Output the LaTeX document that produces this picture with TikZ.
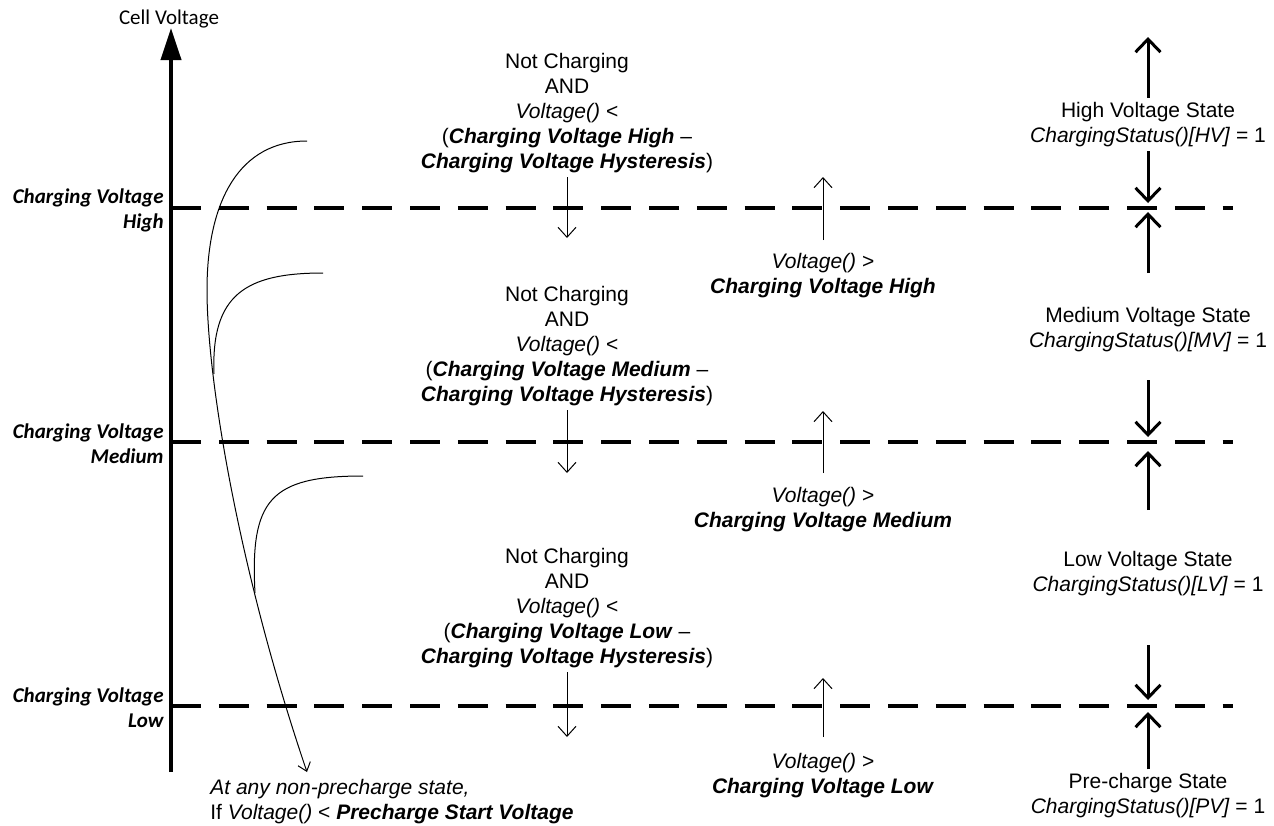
\documentclass[tikz,border=0pt]{standalone}
\usepackage{fontspec}
\setmainfont{Liberation Sans}
\newfontfamily\calibrifont{Carlito}
\usetikzlibrary{arrows.meta}
\newcommand{\boldit}[1]{\textbf{\textit{#1}}}

\begin{document}
\begin{tikzpicture}[x=0.5pt,y=-0.5pt,
        font=\fontsize{10.5}{12.5}\selectfont,
        axis/.style={line width=2pt,-{Triangle[width=10pt,length=16pt]}},
        level/.style={line width=2pt,dash pattern=on 15pt off 8.9pt},
        thinarrow/.style={line width=0.5pt,-{Straight Barb[length=5pt,width=9pt]}},
        statearrow/.style={line width=1.5pt,-{Straight Barb[length=6.5pt,width=12.5pt]}},
        fallarrow/.style={line width=0.5pt,-{Straight Barb[length=4pt,width=6.5pt]}},
        levellabel/.style={font=\calibrifont\fontsize{10.5}{12.5}\selectfont\bfseries\itshape,
            align=right,anchor=east,inner sep=0pt},
        cond/.style={align=center,inner sep=2pt},
        state/.style={align=center,inner sep=2pt}]
        \useasboundingbox (0,0) rectangle (1274,825);

        \coordinate (origin) at (171,772);
        \coordinate (axistop) at (171,28);
        \draw[axis] (origin) -- (axistop);
        \node[inner sep=0pt,font=\calibrifont\fontsize{10.5}{12.5}\selectfont] (axislabel) at (169,19) {Cell Voltage};

        \coordinate (hvleft) at (171,208);
        \coordinate (hvright) at (1233,208);
        \coordinate (mvleft) at (171,442);
        \coordinate (mvright) at (1233,442);
        \coordinate (lvleft) at (171,706);
        \coordinate (lvright) at (1233,706);
        \draw[level] (hvleft) -- (hvright);
        \draw[level] (mvleft) -- (mvright);
        \draw[level] (lvleft) -- (lvright);

        \node[levellabel] (hvlabel) at (164,210) {Charging Voltage\\High};
        \node[levellabel] (mvlabel) at (164,444) {Charging Voltage\\Medium};
        \node[levellabel] (lvlabel) at (164,708) {Charging Voltage\\Low};

        \node[cond] (hvfall) at (567,113) {Not Charging\\AND\\\textit{Voltage()} <\\(\boldit{Charging Voltage High} –\\\boldit{Charging Voltage Hysteresis})};
        \node[cond] (mvfall) at (567,346) {Not Charging\\AND\\\textit{Voltage()} <\\(\boldit{Charging Voltage Medium} –\\\boldit{Charging Voltage Hysteresis})};
        \node[cond] (lvfall) at (567,608) {Not Charging\\AND\\\textit{Voltage()} <\\(\boldit{Charging Voltage Low} –\\\boldit{Charging Voltage Hysteresis})};
        \coordinate (hvfallend) at (567,238);
        \coordinate (mvfallend) at (567,473);
        \coordinate (lvfallend) at (567,737);
        \draw[thinarrow] (hvfall.south) -- (hvfallend);
        \draw[thinarrow] (mvfall.south) -- (mvfallend);
        \draw[thinarrow] (lvfall.south) -- (lvfallend);

        \node[cond] (hvrise) at (823,276) {\textit{Voltage()} >\\\boldit{Charging Voltage High}};
        \node[cond] (mvrise) at (823,510) {\textit{Voltage()} >\\\boldit{Charging Voltage Medium}};
        \node[cond] (lvrise) at (823,776) {\textit{Voltage()} >\\\boldit{Charging Voltage Low}};
        \coordinate (hvrisestart) at (823,240);
        \coordinate (hvriseend) at (823,177);
        \coordinate (mvrisestart) at (823,473);
        \coordinate (mvriseend) at (823,411);
        \coordinate (lvrisestart) at (823,737);
        \coordinate (lvriseend) at (823,678);
        \draw[thinarrow] (hvrisestart) -- (hvriseend);
        \draw[thinarrow] (mvrisestart) -- (mvriseend);
        \draw[thinarrow] (lvrisestart) -- (lvriseend);

        \node[state] (hvstate) at (1148,124.5) {High Voltage State\\\textit{ChargingStatus()[HV]} = 1};
        \node[state] (mvstate) at (1148,329.5) {Medium Voltage State\\\textit{ChargingStatus()[MV]} = 1};
        \node[state] (lvstate) at (1148,574) {Low Voltage State\\\textit{ChargingStatus()[LV]} = 1};
        \node[state] (pvstate) at (1148,796) {Pre-charge State\\\textit{ChargingStatus()[PV]} = 1};
        \coordinate (hvceil) at (1148,37);
        \coordinate (hvdown) at (1148,203);
        \coordinate (hvupstart) at (1148,273);
        \coordinate (hvup) at (1148,212);
        \coordinate (mvdownstart) at (1148,380);
        \coordinate (mvdown) at (1148,437);
        \coordinate (mvupstart) at (1148,510);
        \coordinate (mvup) at (1148,451);
        \coordinate (lvdownstart) at (1148,645);
        \coordinate (lvdown) at (1148,700);
        \coordinate (lvup) at (1148,712);
        \draw[statearrow] (hvstate.north) -- (hvceil);
        \draw[statearrow] (hvstate.south) -- (hvdown);
        \draw[statearrow] (hvupstart) -- (hvup);
        \draw[statearrow] (mvdownstart) -- (mvdown);
        \draw[statearrow] (mvupstart) -- (mvup);
        \draw[statearrow] (lvdownstart) -- (lvdown);
        \draw[statearrow] (pvstate.north) -- (lvup);

        \coordinate (hvcurve) at (307,141);
        \coordinate (mvcurve) at (323,273);
        \coordinate (lvcurve) at (363,476);
        \coordinate (fallend) at (307,772);
        \draw[fallarrow] (hvcurve) .. controls (240,141) and (207,200) .. (207,290)
            .. controls (207,380) and (239,572) .. (fallend);
        \draw[line width=0.5pt] (mvcurve) .. controls (245,273) and (211,295) .. (214,374);
        \draw[line width=0.5pt] (lvcurve) .. controls (270,476) and (250,500) .. (255,593);
        \node[align=left,anchor=west,inner sep=0pt] (precharge) at (210,802) {\textit{At any non-precharge state,}\\If \textit{Voltage()} < \boldit{Precharge Start Voltage}};
    \end{tikzpicture}
\end{document}
